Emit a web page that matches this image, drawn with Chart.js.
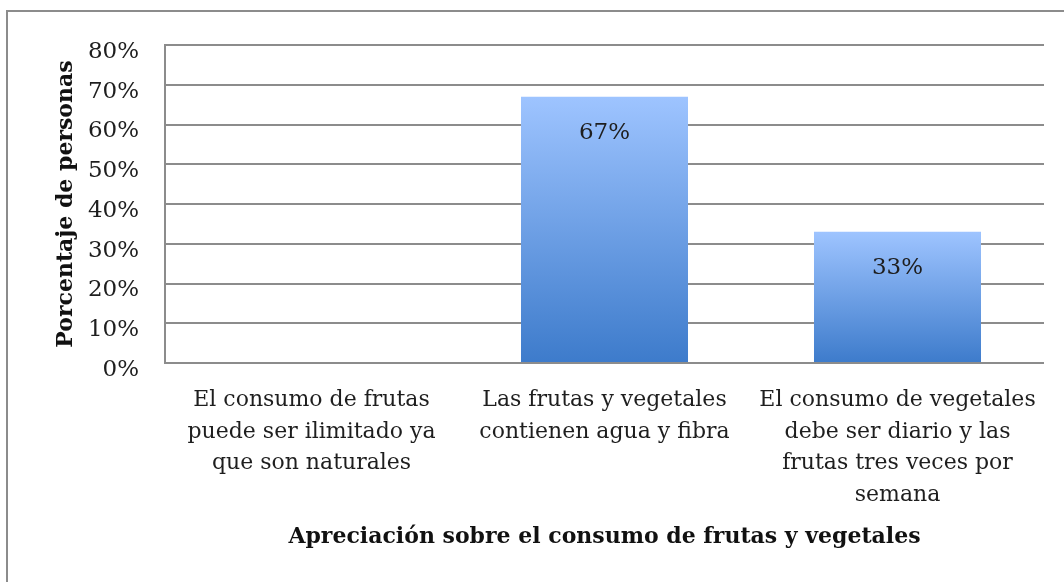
<!DOCTYPE html>
<html>
<head>
    <title>Apreciación sobre el consumo de frutas y vegetales</title>
    <script src="https://cdn.jsdelivr.net/npm/chart.js"></script>
    <style>
        body { margin: 0; background: #fff; overflow: hidden; }
        #frame { position: absolute; left: 6px; top: 10px; width: 1200px; height: 700px;
                 border-left: 2px solid #8c8c8c; border-top: 2px solid #8c8c8c; }
        #wrap { position: absolute; left: 0; top: 0; width: 1064px; height: 582px; }
    </style>
</head>
<body>
    <div id="frame"></div>
    <div id="wrap"><canvas id="chart" width="1064" height="582"></canvas></div>
    <script>
        const categories = [
            ['El consumo de frutas', 'puede ser ilimitado ya', 'que son naturales'],
            ['Las frutas y vegetales', 'contienen agua y fibra'],
            ['El consumo de vegetales', 'debe ser diario y las', 'frutas tres veces por', 'semana']
        ];
        const percentages = [0, 67, 33];
        const yTitle = 'Porcentaje de personas';
        const xTitle = 'Apreciación sobre el consumo de frutas y vegetales';

        const serif = '"DejaVu Serif", serif';

        // gradient per bar, light at the top, darker at the base
        function barGradient(context) {
            const chart = context.chart;
            const yScale = chart.scales.y;
            if (!yScale || context.parsed == null) return '#6a9fe6';
            const top = yScale.getPixelForValue(context.parsed.y);
            const bottom = yScale.getPixelForValue(0);
            if (!isFinite(top) || top === bottom) return '#6a9fe6';
            const g = chart.ctx.createLinearGradient(0, top, 0, bottom);
            g.addColorStop(0, '#9ec4ff');
            g.addColorStop(1, '#3d7bcb');
            return g;
        }

        const valueLabels = {
            id: 'valueLabels',
            afterDatasetsDraw(chart) {
                const ctx = chart.ctx;
                const meta = chart.getDatasetMeta(0);
                ctx.save();
                ctx.font = '23px ' + serif;
                ctx.fillStyle = '#1e1e1e';
                ctx.textAlign = 'center';
                ctx.textBaseline = 'middle';
                meta.data.forEach((bar, i) => {
                    const v = percentages[i];
                    if (!v) return;
                    ctx.fillText(v + '%', bar.x, bar.y + 36);
                });
                ctx.restore();
            }
        };

        new Chart(document.getElementById('chart').getContext('2d'), {
            type: 'bar',
            data: {
                labels: categories,
                datasets: [{
                    data: percentages,
                    backgroundColor: barGradient,
                    borderWidth: 0,
                    barPercentage: 0.57,
                    categoryPercentage: 1
                }]
            },
            options: {
                responsive: false,
                animation: false,
                layout: { padding: { top: 45, right: 20, left: 0, bottom: 0 } },
                plugins: {
                    legend: { display: false },
                    tooltip: { enabled: false }
                },
                scales: {
                    x: {
                        afterFit(scale) { scale.height = 219; },
                        grid: { display: false, drawTicks: false },
                        border: { display: false },
                        ticks: {
                            color: '#1e1e1e',
                            font: { family: serif, size: 22, lineHeight: 1.45 },
                            padding: 21,
                            maxRotation: 0,
                            autoSkip: false
                        },
                        title: {
                            display: true,
                            text: xTitle,
                            color: '#111',
                            font: { family: serif, size: 22, weight: 'bold', lineHeight: 1.2 },
                            padding: { bottom: 32 }
                        }
                    },
                    y: {
                        min: 0,
                        max: 80,
                        afterFit(scale) { scale.width = 165; },
                        grid: { color: '#8c8c8c', lineWidth: 2, drawTicks: false },
                        border: { display: true, color: '#8c8c8c', width: 2 },
                        ticks: {
                            stepSize: 10,
                            color: '#1e1e1e',
                            font: { family: serif, size: 23 },
                            padding: 26,
                            labelOffset: 7,
                            callback: v => v + '%'
                        },
                        title: {
                            display: true,
                            text: yTitle,
                            color: '#111',
                            font: { family: serif, size: 22, weight: 'bold', lineHeight: 1.2 },
                            padding: { top: 53 }
                        }
                    }
                }
            },
            plugins: [valueLabels]
        });
    </script>
</body>
</html>
